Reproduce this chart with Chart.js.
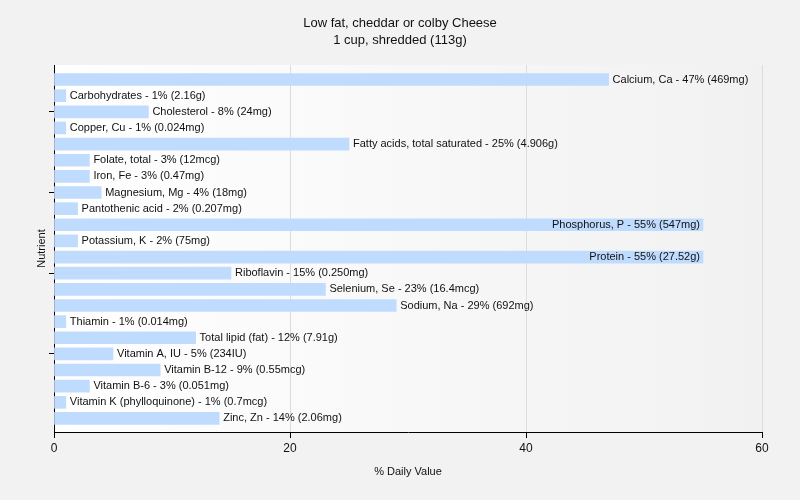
<!DOCTYPE html>
<html>
<head>
<meta charset="utf-8">
<script src="https://cdn.jsdelivr.net/npm/chart.js@4"></script>
<style>
  html, body { margin: 0; padding: 0; background: #f2f2f2; }
  #wrap { width: 800px; height: 500px; }
</style>
</head>
<body>
<div id="wrap"><canvas id="chart" width="800" height="500"></canvas></div>
<script>
const nutrients = [
  'Calcium, Ca', 'Carbohydrates', 'Cholesterol', 'Copper, Cu', 'Fatty acids, total saturated',
  'Folate, total', 'Iron, Fe', 'Magnesium, Mg', 'Pantothenic acid', 'Phosphorus, P',
  'Potassium, K', 'Protein', 'Riboflavin', 'Selenium, Se', 'Sodium, Na', 'Thiamin',
  'Total lipid (fat)', 'Vitamin A, IU', 'Vitamin B-12', 'Vitamin B-6',
  'Vitamin K (phylloquinone)', 'Zinc, Zn'
];
const dailyValues = [47, 1, 8, 1, 25, 3, 3, 4, 2, 55, 2, 55, 15, 23, 29, 1, 12, 5, 9, 3, 1, 14];
const amounts = [
  '469mg', '2.16g', '24mg', '0.024mg', '4.906g', '12mcg', '0.47mg', '18mg', '0.207mg', '547mg',
  '75mg', '27.52g', '0.250mg', '16.4mcg', '692mg', '0.014mg', '7.91g', '234IU', '0.55mcg',
  '0.051mg', '0.7mcg', '2.06mg'
];
const xTicks = [0, 20, 40, 60];
const yTickIdx = [2, 7, 12, 17];

const FONT = '"Liberation Sans", Arial, sans-serif';

const points = dailyValues.map((v, i) => ({ x: v, y: i }));

const plotBg = {
  id: 'plotBg',
  beforeDraw(chart) {
    const { ctx, chartArea: a } = chart;
    const g = ctx.createLinearGradient(a.left, 0, a.right, 0);
    g.addColorStop(0, '#ffffff');
    g.addColorStop(1, '#f1f1f1');
    ctx.save();
    ctx.fillStyle = g;
    ctx.fillRect(a.left, a.top, a.right - a.left, a.bottom - a.top);
    ctx.restore();
  }
};

const texts = {
  id: 'texts',
  afterDraw(chart) {
    const { ctx, chartArea: a } = chart;
    ctx.save();
    ctx.fillStyle = '#111';
    ctx.textAlign = 'center';
    ctx.textBaseline = 'middle';
    ctx.font = '13px ' + FONT;
    ctx.fillText('Low fat, cheddar or colby Cheese', 400, 23);
    ctx.fillText('1 cup, shredded (113g)', 400, 40);
    ctx.font = '11px ' + FONT;
    ctx.fillText('% Daily Value', (a.left + a.right) / 2, 472);
    ctx.translate(42, (a.top + a.bottom) / 2);
    ctx.rotate(-Math.PI / 2);
    ctx.fillText('Nutrient', 0, 0);
    ctx.restore();
  }
};

const barLabels = {
  id: 'barLabels',
  afterDatasetsDraw(chart) {
    const { ctx, chartArea: a } = chart;
    const meta = chart.getDatasetMeta(0);
    ctx.save();
    ctx.font = '11px ' + FONT;
    ctx.fillStyle = '#111';
    ctx.textBaseline = 'middle';
    meta.data.forEach((bar, i) => {
      const txt = nutrients[i] + ' - ' + dailyValues[i] + '% (' + amounts[i] + ')';
      const w = ctx.measureText(txt).width;
      if (bar.x + 4 + w > a.right) {
        ctx.textAlign = 'right';
        ctx.fillText(txt, bar.x - 3, bar.y);
      } else {
        ctx.textAlign = 'left';
        ctx.fillText(txt, bar.x + 4, bar.y);
      }
    });
    ctx.restore();
  }
};

new Chart(document.getElementById('chart'), {
  type: 'bar',
  data: {
    datasets: [{
      data: points,
      backgroundColor: '#bfdbfd',
      borderWidth: 0,
      barThickness: 12
    }]
  },
  options: {
    indexAxis: 'y',
    responsive: false,
    animation: false,
    layout: { padding: { top: 65, right: 38, left: 0, bottom: 0 } },
    plugins: { legend: { display: false }, tooltip: { enabled: false }, title: { display: false } },
    scales: {
      x: {
        type: 'linear',
        min: 0,
        max: 60,
        afterBuildTicks(scale) { scale.ticks = xTicks.map(v => ({ value: v })); },
        afterFit(scale) { scale.height = 68; },
        grid: { color: '#dcdcdc', tickColor: '#000', tickLength: 6 },
        border: { color: '#000' },
        ticks: { color: '#111', font: { family: FONT, size: 12 }, padding: 3 }
      },
      y: {
        type: 'linear',
        reverse: true,
        offset: false,
        min: -0.9,
        max: 21.84,
        afterBuildTicks(scale) { scale.ticks = yTickIdx.map(v => ({ value: v })); },
        afterFit(scale) { scale.width = 54; },
        grid: { drawOnChartArea: false, offset: false, tickColor: '#000', tickLength: 5 },
        border: { color: '#000' },
        ticks: { callback: () => '' }
      }
    }
  },
  plugins: [plotBg, barLabels, texts]
});
</script>
</body>
</html>
